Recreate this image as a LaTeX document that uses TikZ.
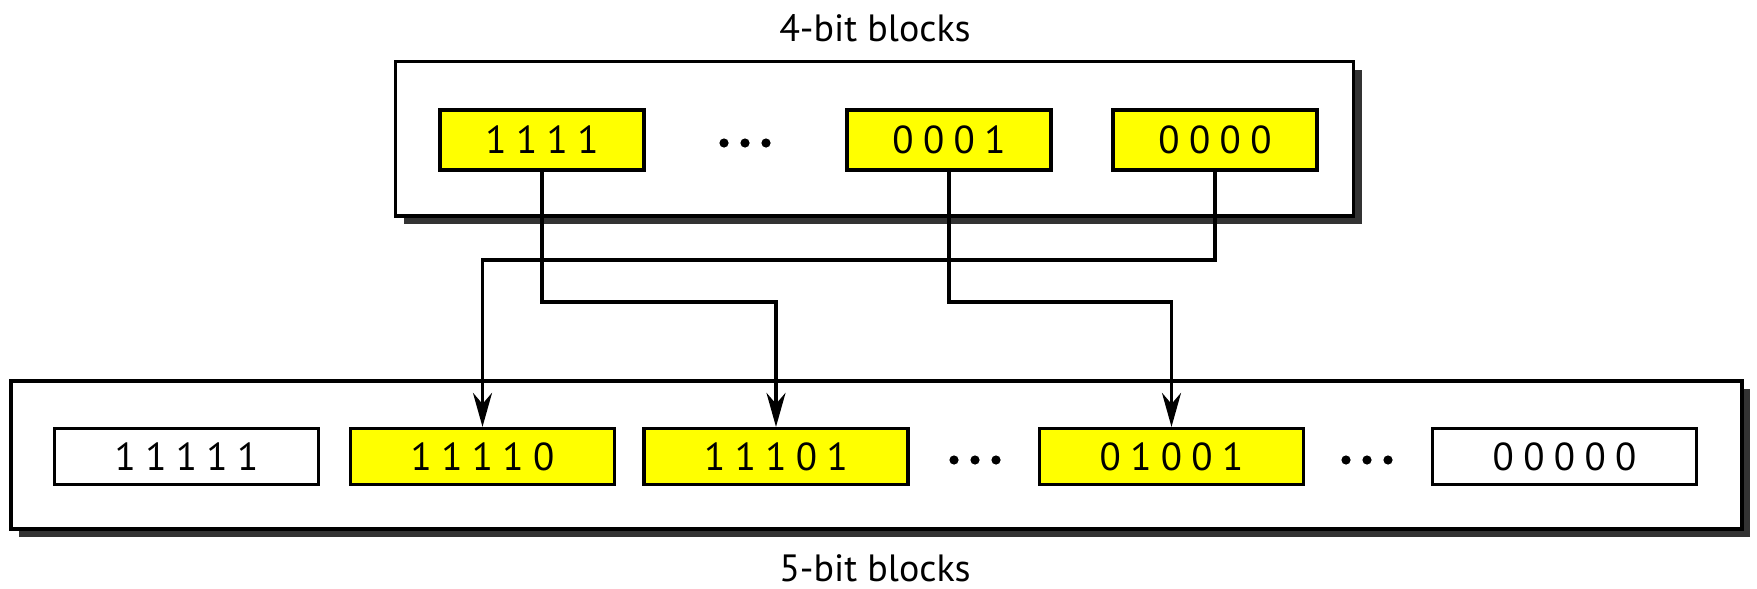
\documentclass[tikz,border=0pt]{standalone}
\usepackage{fontspec}
\setmainfont{PT Sans}
\usetikzlibrary{arrows.meta,calc}
\definecolor{shadowgray}{HTML}{333333}
\definecolor{blkyellow}{HTML}{FFFF00}
\tikzset{
  outerbox/.style={draw=black,fill=white,line width=3.4pt},
  shadowbox/.style={fill=shadowgray},
  blk/.style={draw=black,line width=3.2pt,rectangle,inner sep=0pt,
    font=\fontsize{39}{42}\selectfont\addfontfeature{LetterSpace=24}},
  topblk/.style={blk,fill=blkyellow,minimum width=204pt,minimum height=60pt},
  botblk/.style={blk,minimum width=264pt,minimum height=56pt},
  conn/.style={line width=3.6pt,-{Stealth[length=34pt,width=19pt,inset=11pt]}},
  lbl/.style={font=\fontsize{38}{42}\selectfont},
  dot/.style={fill=black}
}
\begin{document}
\begin{tikzpicture}[x=1pt,y=-1pt]
\useasboundingbox (0,0) rectangle (1757,589);
% labels
\node[lbl] (l4) at (875,28) {4-bit blocks};
\node[lbl] (l5) at (875,568) {5-bit blocks};
% top outer box
\fill[shadowbox] (403.5,69.6) rectangle (1361.5,224);
\draw[outerbox] (395.5,61.6) rectangle (1353.5,216);
% bottom outer box
\fill[shadowbox] (19,389) rectangle (1750,537);
\draw[outerbox] (11,381) rectangle (1742,529);
% top blocks
\node[topblk] (t1) at (542,140) {1111};
\node[topblk] (t2) at (949,140) {0001};
\node[topblk] (t3) at (1215,140) {0000};
\foreach \x in {724,745,766} \fill[dot] (\x,143) circle (4.6);
% bottom blocks
\node[botblk] (b1) at (186.5,456.5) {11111};
\node[botblk,fill=blkyellow] (b2) at (482.5,456.5) {11110};
\node[botblk,fill=blkyellow] (b3) at (776,456.5) {11101};
\node[botblk,fill=blkyellow] (b4) at (1171.5,456.5) {01001};
\node[botblk] (b5) at (1564.5,456.5) {00000};
\foreach \x in {954,975,996} \fill[dot] (\x,460) circle (4.6);
\foreach \x in {1346,1367,1388} \fill[dot] (\x,460) circle (4.6);
% connectors
\coordinate (h1) at (542,302);
\coordinate (h2) at (949,302);
\coordinate (h3) at (1215,260);
\draw[conn] (t1.south) -- (h1) -| (b3.north);
\draw[conn] (t2.south) -- (h2) -| (b4.north);
\draw[conn] (t3.south) -- (h3) -| (b2.north);
\end{tikzpicture}
\end{document}
